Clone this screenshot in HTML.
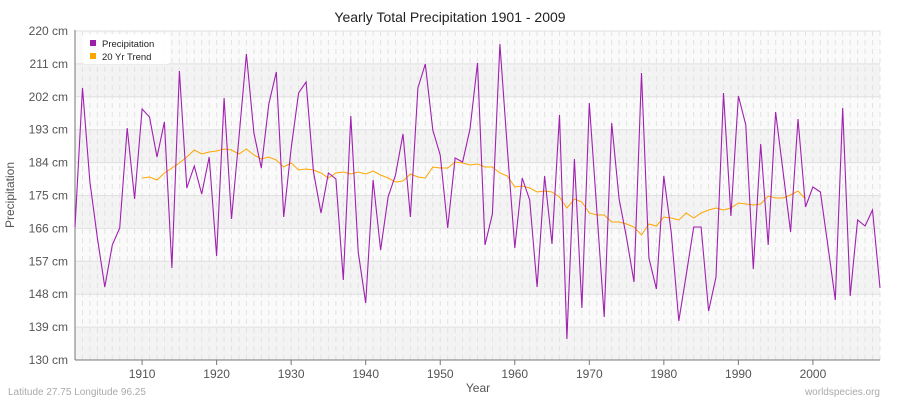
<!DOCTYPE html>
<html><head><meta charset="utf-8"><style>
body{margin:0;background:#fff;}
svg text{font-family:"Liberation Sans","DejaVu Sans",sans-serif;}
</style></head><body>
<svg width="900" height="400" viewBox="0 0 900 400" xmlns="http://www.w3.org/2000/svg">
<rect width="900" height="400" fill="#fff"/>
<text x="450" y="22" text-anchor="middle" font-size="14" fill="#222">Yearly Total Precipitation 1901 - 2009</text>
<g id="bands"></g>
<g id="vgrid"></g>
<g id="hgrid"></g>
<line x1="75" y1="30" x2="75" y2="360" stroke="#777" stroke-width="1"/>
<line x1="75" y1="360" x2="880" y2="360" stroke="#777" stroke-width="1"/>
<g id="ylab" font-size="12" fill="#555" text-anchor="end"></g>
<g id="xlab" font-size="12" fill="#555" text-anchor="middle"></g>
<text x="14" y="195" font-size="12" fill="#555" text-anchor="middle" transform="rotate(-90 14 195)">Precipitation</text>
<text x="478" y="392" font-size="12" fill="#555" text-anchor="middle">Year</text>
<text x="8" y="395" font-size="10" fill="#aaa">Latitude 27.75 Longitude 96.25</text>
<text x="880" y="395" font-size="10" fill="#aaa" text-anchor="end">worldspecies.org</text>
<polyline id="trend" fill="none" stroke="#ffa500" stroke-width="1"/>
<polyline id="prec" fill="none" stroke="#a020b0" stroke-width="1.1"/>
<rect x="82" y="34" width="88" height="30" rx="3" fill="#fff" opacity="0.9"/>
<rect x="90" y="40" width="6" height="6" fill="#9b1fa8"/>
<text x="102" y="47" font-size="9.5" fill="#222">Precipitation</text>
<rect x="90" y="53" width="6" height="6" fill="#ffa500"/>
<text x="102" y="60" font-size="9.5" fill="#222">20 Yr Trend</text>
</svg>
<script>
var ns="http://www.w3.org/2000/svg";
function el(p,t,a){var e=document.createElementNS(ns,t);for(var k in a)e.setAttribute(k,a[k]);document.getElementById(p).appendChild(e);return e;}
var step=(880-75)/108;
var gh=32.9;
function X(y){return 75+(y-1901)*step;}
for(var k=0;k<10;k++){var y0=31+k*gh;
 el("bands","rect",{x:75,y:y0,width:805,height:gh,fill:(k%2==0)?"#fafafa":"#f3f3f3"});}
for(var yr=1901;yr<=2009;yr++){var x=X(yr);
 el("vgrid","line",{x1:x,y1:31,x2:x,y2:360,stroke:"#e2e2e2","stroke-dasharray":"5,4","stroke-width":1});}
for(var k=0;k<=10;k++){var y=31+k*gh;
 if(k<10)el("hgrid","line",{x1:75,y1:y,x2:880,y2:y,stroke:"#e0e0e0","stroke-width":1});
 var t=el("ylab","text",{x:68,y:y+4});t.textContent=(220-9*k)+" cm";}
for(var d=1910;d<=2000;d+=10){var x=X(d);
 el("xlab","line",{x1:x,y1:360,x2:x,y2:365,stroke:"#777"});
 var t=el("xlab","text",{x:x,y:378});t.textContent=d;}
var p=[227,88,182,238,287,245,228,128,199,109,117,157,122,268,71,188,166,194,157,256,98,219,137,54,133,168,104,72,217,148,93,82,172,213,173,179,280,116,252,303,180,250,197,175,134,217,88,64,130,155,228,158,162,129,63,245,214,44,148,248,178,200,287,176,244,115,339,159,308,103,210,317,123,199,238,282,73,258,289,176,233,321,275,227,227,311,277,93,216,96,125,269,144,245,112,172,232,119,207,187,192,245,300,108,296,220,226,210,288];
var tr=[178,177,180,173,168,163,157,150,154,152,151,149,150,154,149,155,159,157,160,167,163,170,169,170,173,178,173,172,174,172,174,171,175,178,182,181,174,177,178,167,168,168,162,163,165,164,167,167,173,176,187,186,188,192,191,192,197,208,199,202,213,215,215,222,222,224,227,235,224,226,217,218,220,213,218,213,210,208,210,208,203,204,205,204,196,198,198,195,191,199];
document.getElementById("prec").setAttribute("points",p.map(function(v,i){return X(1901+i).toFixed(1)+","+v;}).join(" "));
document.getElementById("trend").setAttribute("points",tr.map(function(v,i){return X(1910+i).toFixed(1)+","+v;}).join(" "));
</script>
</body></html>
